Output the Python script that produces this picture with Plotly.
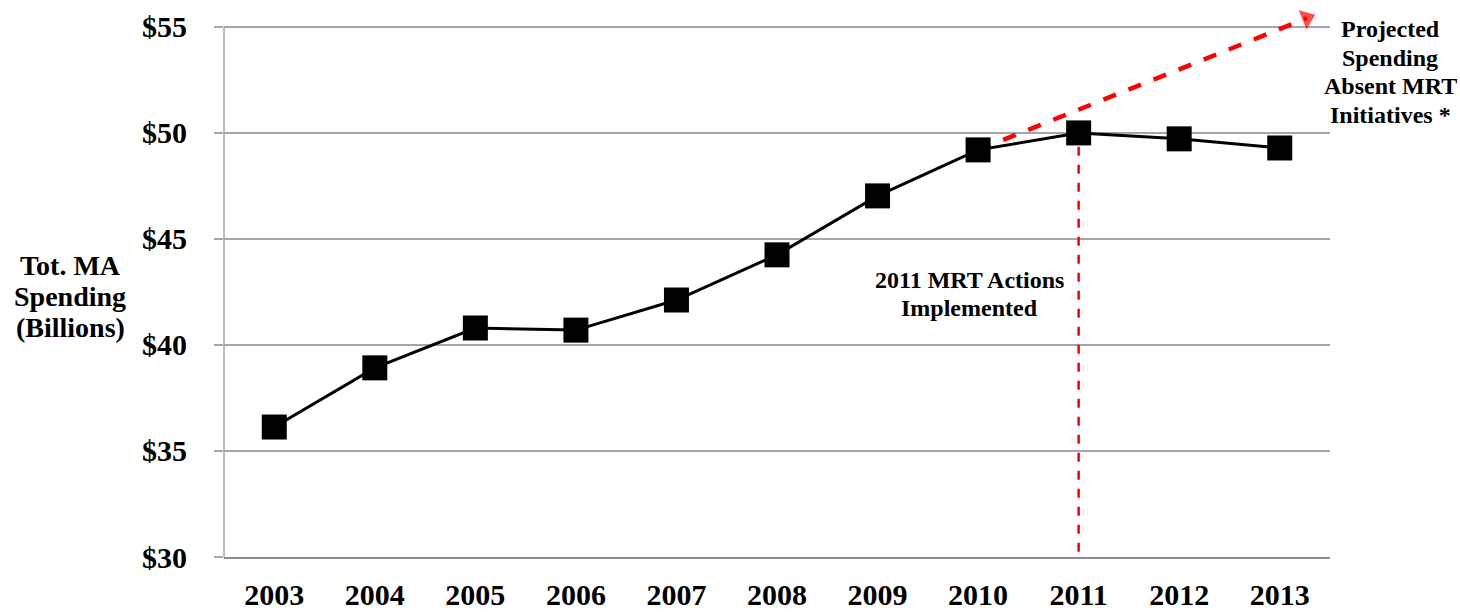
import plotly.graph_objects as go

years = [2003, 2004, 2005, 2006, 2007, 2008, 2009, 2010, 2011, 2012, 2013]
spending = [36.13, 38.92, 40.8, 40.7, 42.12, 44.25, 47.03, 49.2, 50.0, 49.72, 49.29]
proj_years = [2010, 2013.27]
proj_values = [49.2, 55.41]
mrt_year = 2011
y_ticks = [30, 35, 40, 45, 50, 55]
y_ticktext = ["$30", "$35", "$40", "$45", "$50", "$55"]
y_top = 55.75

ytitle_lines = ["Tot. MA", "Spending", "(Billions)"]
mrt_lines = ["2011 MRT Actions", "Implemented"]
proj_lines = ["Projected", "Spending", "Absent MRT", "Initiatives *"]

FONT = "Liberation Serif"
GRID = "#A6A6A6"

fig = go.Figure()

fig.add_trace(go.Scatter(
    x=proj_years, y=proj_values, mode="lines+markers",
    line=dict(color="#FF0000", width=4.5, dash="dash"),
    marker=dict(symbol=["circle", "triangle-up"], size=[0, 18], color="#FF0000",
                angleref="previous", line=dict(width=0)),
    cliponaxis=False, hoverinfo="skip", showlegend=False,
))

mrt_val = spending[years.index(mrt_year)]
fig.add_trace(go.Scatter(
    x=[mrt_year, mrt_year], y=[y_ticks[0] + 0.25, mrt_val], mode="lines",
    line=dict(color="#FF0000", width=2.5, dash="dash"),
    hoverinfo="skip", showlegend=False,
))

fig.add_trace(go.Scatter(
    x=years, y=spending, mode="lines+markers",
    line=dict(color="black", width=3),
    marker=dict(symbol="square", size=25, color="black"),
    showlegend=False,
))

# left axis line only between the first and last tick
fig.add_shape(type="line", xref="paper", yref="y", x0=0, x1=0,
              y0=y_ticks[0], y1=y_ticks[-1], line=dict(color=GRID, width=1.5))

fig.update_layout(
    width=1460, height=613,
    margin=dict(l=224, r=130, t=11, b=56),
    paper_bgcolor="white", plot_bgcolor="white",
    font=dict(family=FONT, color="black"),
    xaxis=dict(
        range=[2002.5, 2013.5], tickvals=years, ticktext=[str(y) for y in years],
        showgrid=False, zeroline=False, showline=True, linecolor="#8C8C8C", linewidth=1.5,
        ticks="", tickfont=dict(size=30, family=FONT, weight="bold"),
        ticklabelstandoff=10, automargin=False,
    ),
    yaxis=dict(
        range=[30, y_top], tickvals=y_ticks, ticktext=y_ticktext,
        showgrid=True, gridcolor=GRID, gridwidth=1.5, zeroline=False,
        showline=False,
        ticks="outside", ticklen=9, tickcolor=GRID, tickwidth=1.5,
        tickfont=dict(size=30, family=FONT, weight="bold"),
        ticklabelstandoff=21, automargin=False,
    ),
)


def add_lines(lines, x_px, y_first_px, spacing, size):
    for i, t in enumerate(lines):
        fig.add_annotation(
            xref="paper", yref="paper",
            x=(x_px - 224) / (1460 - 224 - 130),
            y=1 - ((y_first_px + i * spacing) - 11) / (613 - 11 - 56),
            xanchor="center", yanchor="middle", text=t, showarrow=False,
            font=dict(size=size, family=FONT, weight="bold"),
        )


add_lines(ytitle_lines, 70, 265, 31, 28)
add_lines(mrt_lines, 969, 280, 28, 24)
add_lines(proj_lines, 1390, 29, 28.7, 24)

fig.write_html("out.html")
